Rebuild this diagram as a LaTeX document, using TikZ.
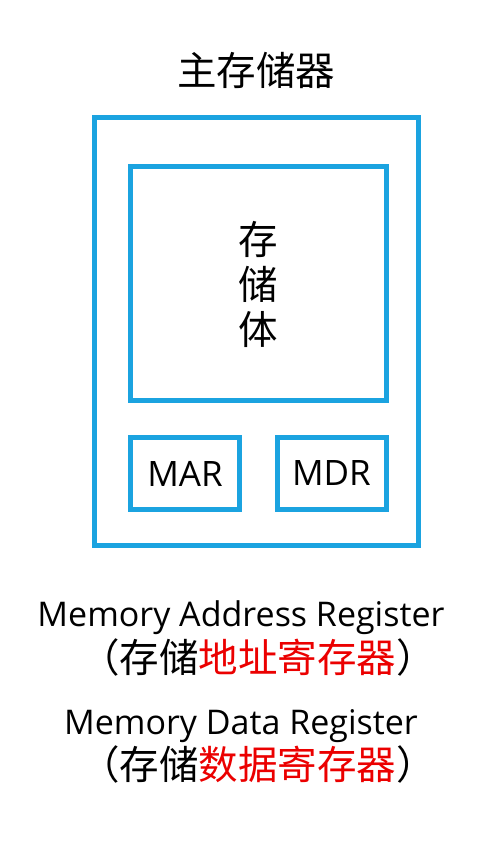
\documentclass[tikz,border=0pt]{standalone}
\usepackage{fontspec}
\setmainfont{Open Sans}
\newfontfamily\cjk{Noto Sans CJK SC}
\usepackage{xcolor}
\definecolor{boxblue}{RGB}{27,163,224}
\definecolor{hired}{RGB}{235,0,0}
\usetikzlibrary{positioning,calc}

\begin{document}
\begin{tikzpicture}[x=1pt,y=1pt,box/.style={draw=boxblue,line width=5pt,inner sep=0pt},reg/.style={box,minimum width=109pt,minimum height=72pt,font=\fontsize{35pt}{40pt}\selectfont},cn/.style={font=\cjk\fontsize{39.5pt}{45pt}\selectfont},en/.style={anchor=base,inner sep=0pt,font=\fontsize{34pt}{40pt}\selectfont}]
\useasboundingbox (0,0) rectangle (496,862);
\node (title) at (256,792)[cn] {主存储器};
\node (mem) at (256,530)[box,minimum width=324pt,minimum height=428pt] {};
\node (body) at (258,578)[box,minimum width=256pt,minimum height=234pt] {};
\node (bodytxt) at (body.center)[cn,align=center] {存\\储\\体};
\node (mar) at (185,388.5)[reg] {MAR};
\node (mdr) at (331.5,388.5)[reg] {MDR};

\node (marname) at (241,235)[en] {Memory Address Register};
\node (marcn) at (258,205)[cn] {（存储\textcolor{hired}{地址寄存器}）};
\node (mdrname) at (241,127)[en] {Memory Data Register};
\node (mdrcn) at (258,98)[cn] {（存储\textcolor{hired}{数据寄存器}）};
\end{tikzpicture}
\end{document}
